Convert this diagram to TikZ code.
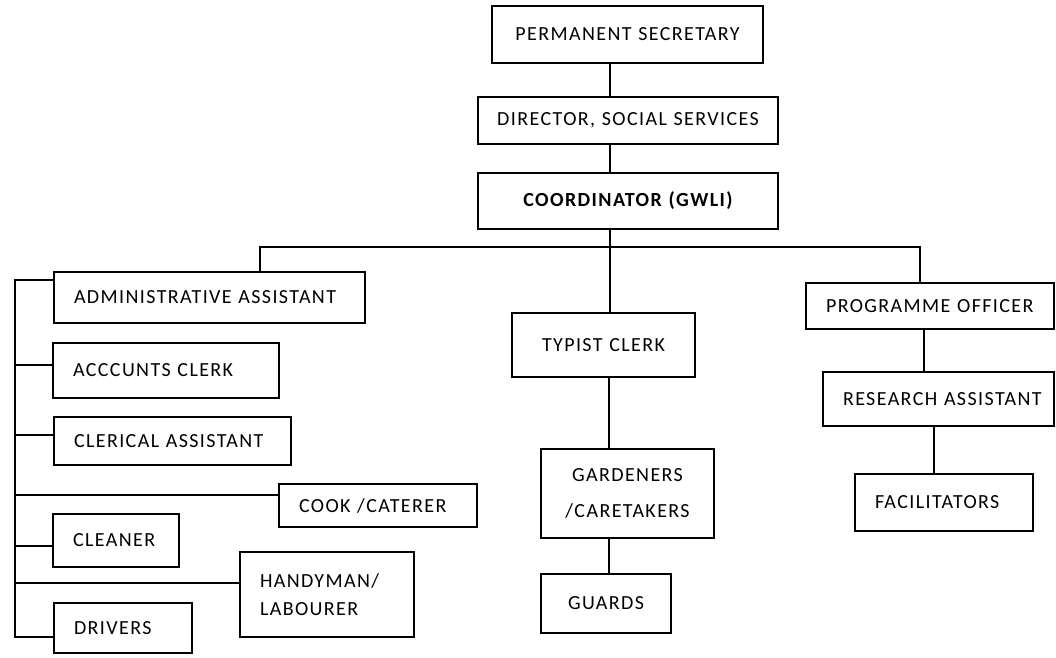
\documentclass[tikz,border=0pt]{standalone}
\usepackage{fontspec}
\setmainfont[LetterSpace=7]{Carlito}
\newcommand{\lpad}{\hspace*{20pt}}
\begin{document}
\begin{tikzpicture}[x=1pt,y=-1pt,
  every node/.style={font=\fontsize{20}{25}\selectfont},
  box/.style={draw, line width=1.1pt, inner ysep=0pt, inner xsep=0pt, minimum height=#1},
  lbox/.style={box=#1, align=left},
  cbox/.style={box=#1, align=center},
  link/.style={line width=1.1pt}]
\useasboundingbox (0,0) rectangle (1056,657);

% top of the hierarchy
\node[cbox=57, text width=271pt] (ps)    at (627.5,34.5) {PERMANENT SECRETARY};
\node[cbox=47, text width=300pt] (dir)   at (628,120.5)  {DIRECTOR, SOCIAL SERVICES};
\node[cbox=56, text width=300pt, font=\fontsize{20}{25}\selectfont\bfseries] (coord) at (628,201) {COORDINATOR (GWLI)};

% left column
\node[lbox=51, text width=311pt] (admin) at (209.5,297.5) {\lpad ADMINISTRATIVE ASSISTANT};
\node[lbox=55, text width=226pt] (acc)   at (166,370.5)   {\lpad ACCCUNTS CLERK};
\node[lbox=48, text width=237pt] (cler)  at (172.5,441)   {\lpad CLERICAL ASSISTANT};
\node[lbox=43, text width=198pt] (cook)  at (378,505.5)   {\lpad COOK /CATERER};
\node[lbox=53, text width=126pt] (clean) at (116,540.5)   {\lpad CLEANER};
\node[lbox=85, text width=174pt, font=\fontsize{20}{28}\selectfont] (handy) at (327,594.5) {\lpad HANDYMAN/\\\lpad LABOURER};
\node[lbox=50, text width=138pt] (driv)  at (123,628)     {\lpad DRIVERS};

% middle column
\node[cbox=64, text width=183pt] (typ)   at (603.5,345)   {TYPIST CLERK};
\node[cbox=89, text width=173pt, font=\fontsize{20}{36}\selectfont] (gard) at (627.5,493.5) {GARDENERS\\/CARETAKERS};
\node[cbox=59, text width=130pt] (guard) at (606,603.5)   {GUARDS};

% right column
\node[lbox=46, text width=248pt] (prog)  at (930,306)     {\lpad PROGRAMME OFFICER};
\node[lbox=54, text width=231pt] (res)   at (938.5,399)   {\lpad RESEARCH ASSISTANT};
\node[lbox=57, text width=178pt] (fac)   at (944,502.5)   {\lpad FACILITATORS};

% junction points
\coordinate (trunk) at (610,247);
\coordinate (busL)  at (260,247);
\coordinate (busR)  at (920,247);
\coordinate (spine) at (15,280);
\coordinate (spineB) at (15,637);

% vertical chain at the top
\draw[link] (ps.south -| trunk) -- (dir.north -| trunk);
\draw[link] (dir.south -| trunk) -- (coord.north -| trunk);
\draw[link] (coord.south -| trunk) -- (typ.north -| trunk);

% horizontal bus
\draw[link] (admin.north -| busL) -- (busL) -- (busR) -- (prog.north -| busR);

% middle chain
\draw[link] (typ.south -| 609,0) -- (gard.north -| 609,0);
\draw[link] (gard.south -| 609,0) -- (guard.north -| 609,0);

% right chain
\draw[link] (prog.south -| 924,0) -- (res.north -| 924,0);
\draw[link] (res.south -| 934,0) -- (fac.north -| 934,0);

% left spine and its branches
\draw[link] (admin.west |- spine) -- (spine) -- (spineB) -- (driv.west |- spineB);
\draw[link] (spine |- 0,365) -- (acc.west |- 0,365);
\draw[link] (spine |- 0,435) -- (cler.west |- 0,435);
\draw[link] (spine |- 0,495) -- (cook.west |- 0,495);
\draw[link] (spine |- 0,546) -- (clean.west |- 0,546);
\draw[link] (spine |- 0,583) -- (handy.west |- 0,583);
\end{tikzpicture}
\end{document}
